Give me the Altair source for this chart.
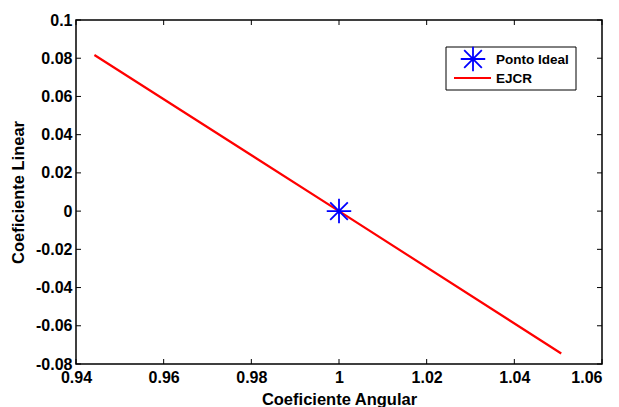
import altair as alt
import pandas as pd

# ---- data ----
line_x = [0.9442, 1.0, 1.0507]
line_y = [0.0817, 0.0, -0.0745]
ideal_x = [1.0]
ideal_y = [0.0]
x_ticks = [0.94, 0.96, 0.98, 1.0, 1.02, 1.04, 1.06]
y_ticks = [-0.08, -0.06, -0.04, -0.02, 0.0, 0.02, 0.04, 0.06, 0.08, 0.1]
legend_labels = ["Ponto Ideal", "EJCR"]

W, H = 526, 344
FONT = "Liberation Sans"
ASTERISK = "M-1,0L1,0M0,-1L0,1M-0.72,-0.72L0.72,0.72M-0.72,0.72L0.72,-0.72"
LABEL_EXPR = "datum.value < 0 ? '-' + format(-datum.value, '.2~f') : format(datum.value, '.2~f')"

xs = alt.Scale(domain=[0.94, 1.06], nice=False, zero=False)
ys = alt.Scale(domain=[-0.08, 0.1], nice=False, zero=False)

line_df = pd.DataFrame({"x": line_x, "y": line_y})
ideal_df = pd.DataFrame({"x": ideal_x, "y": ideal_y})
xt_df = pd.DataFrame({"x": x_ticks})
yt_df = pd.DataFrame({"y": y_ticks})

x_axis = alt.Axis(values=x_ticks, labelExpr=LABEL_EXPR, grid=False, domain=False, ticks=False,
                  labelFont=FONT, labelFontWeight="bold", labelFontSize=16, labelColor="black",
                  labelPadding=5, labelFlush=False, labelOverlap=False, labelBound=False,
                  labelAlign={"condition": {"test": "datum.value > 1.055", "value": "right"},
                              "value": "center"},
                  title="Coeficiente Angular", titleFont=FONT, titleFontWeight="bold",
                  titleFontSize=16.5, titleColor="black", titleY=40, titleBaseline="alphabetic")
y_axis = alt.Axis(values=y_ticks, labelExpr=LABEL_EXPR, grid=False, domain=False, ticks=False,
                  labelFont=FONT, labelFontWeight="bold", labelFontSize=16, labelColor="black",
                  labelPadding=4, labelFlush=False, labelOverlap=False, labelBound=False,
                  title="Coeficiente Linear", titleFont=FONT, titleFontWeight="bold",
                  titleFontSize=16.5, titleColor="black", titleX=-58, titleBaseline="middle")

X = lambda f: alt.X(f, scale=xs, axis=x_axis)
Y = lambda f: alt.Y(f, scale=ys, axis=y_axis)

line = alt.Chart(line_df).mark_line(color="#ff0000", strokeWidth=2.2, clip=True).encode(
    x=X("x:Q"), y=Y("y:Q"))

ideal = alt.Chart(ideal_df).mark_point(shape=ASTERISK, size=600, color="#0000ff",
                                       strokeWidth=1.8, filled=False, opacity=1).encode(
    x=X("x:Q"), y=Y("y:Q"))

TL = 5
xtick_bottom = alt.Chart(xt_df).mark_rule(color="black", strokeWidth=1).encode(
    x=X("x:Q"), y=alt.value(H), y2=alt.value(H - TL))
xtick_top = alt.Chart(xt_df).mark_rule(color="black", strokeWidth=1).encode(
    x=X("x:Q"), y=alt.value(0), y2=alt.value(TL))
ytick_left = alt.Chart(yt_df).mark_rule(color="black", strokeWidth=1).encode(
    y=Y("y:Q"), x=alt.value(0), x2=alt.value(TL))
ytick_right = alt.Chart(yt_df).mark_rule(color="black", strokeWidth=1).encode(
    y=Y("y:Q"), x=alt.value(W), x2=alt.value(W - TL))

# ---- legend (drawn) ----
LX0, LY0, LX1, LY1 = 446 - 76, 47 - 20, 576 - 76, 90 - 20
one = pd.DataFrame({"a": [0]})
leg_box = alt.Chart(one).mark_rect(
    fill="white", stroke="black", strokeWidth=1).encode(
    x=alt.value(LX0), x2=alt.value(LX1), y=alt.value(LY0), y2=alt.value(LY1))
leg_star = alt.Chart(one).mark_point(
    shape=ASTERISK, size=600, color="#0000ff", strokeWidth=1.8, filled=False, opacity=1).encode(
    x=alt.value(473 - 76), y=alt.value(59 - 20))
leg_line = alt.Chart(one).mark_rule(color="#ff0000", strokeWidth=2.2).encode(
    x=alt.value(454 - 76), x2=alt.value(491 - 76), y=alt.value(78 - 20))
leg_text1 = alt.Chart(pd.DataFrame({"label": [legend_labels[0]]})).mark_text(
    align="left", baseline="middle", font=FONT, fontWeight="bold", fontSize=13.5, color="black").encode(
    x=alt.value(496 - 76), y=alt.value(60 - 20), text="label:N")
leg_text2 = alt.Chart(pd.DataFrame({"label": [legend_labels[1]]})).mark_text(
    align="left", baseline="middle", font=FONT, fontWeight="bold", fontSize=13.5, color="black").encode(
    x=alt.value(496 - 76), y=alt.value(79 - 20), text="label:N")

chart = alt.layer(line, ideal, xtick_bottom, xtick_top, ytick_left, ytick_right,
                  leg_box, leg_star, leg_line, leg_text1, leg_text2).properties(
    width=W, height=H,
    autosize=alt.AutoSizeParams(type="none"),
    padding={"left": 68, "top": 12, "right": 9, "bottom": 43},
    background="white",
).configure_view(stroke="black", strokeWidth=1.5)

chart.save("out.html", embed_options={"renderer": "svg", "actions": False})
